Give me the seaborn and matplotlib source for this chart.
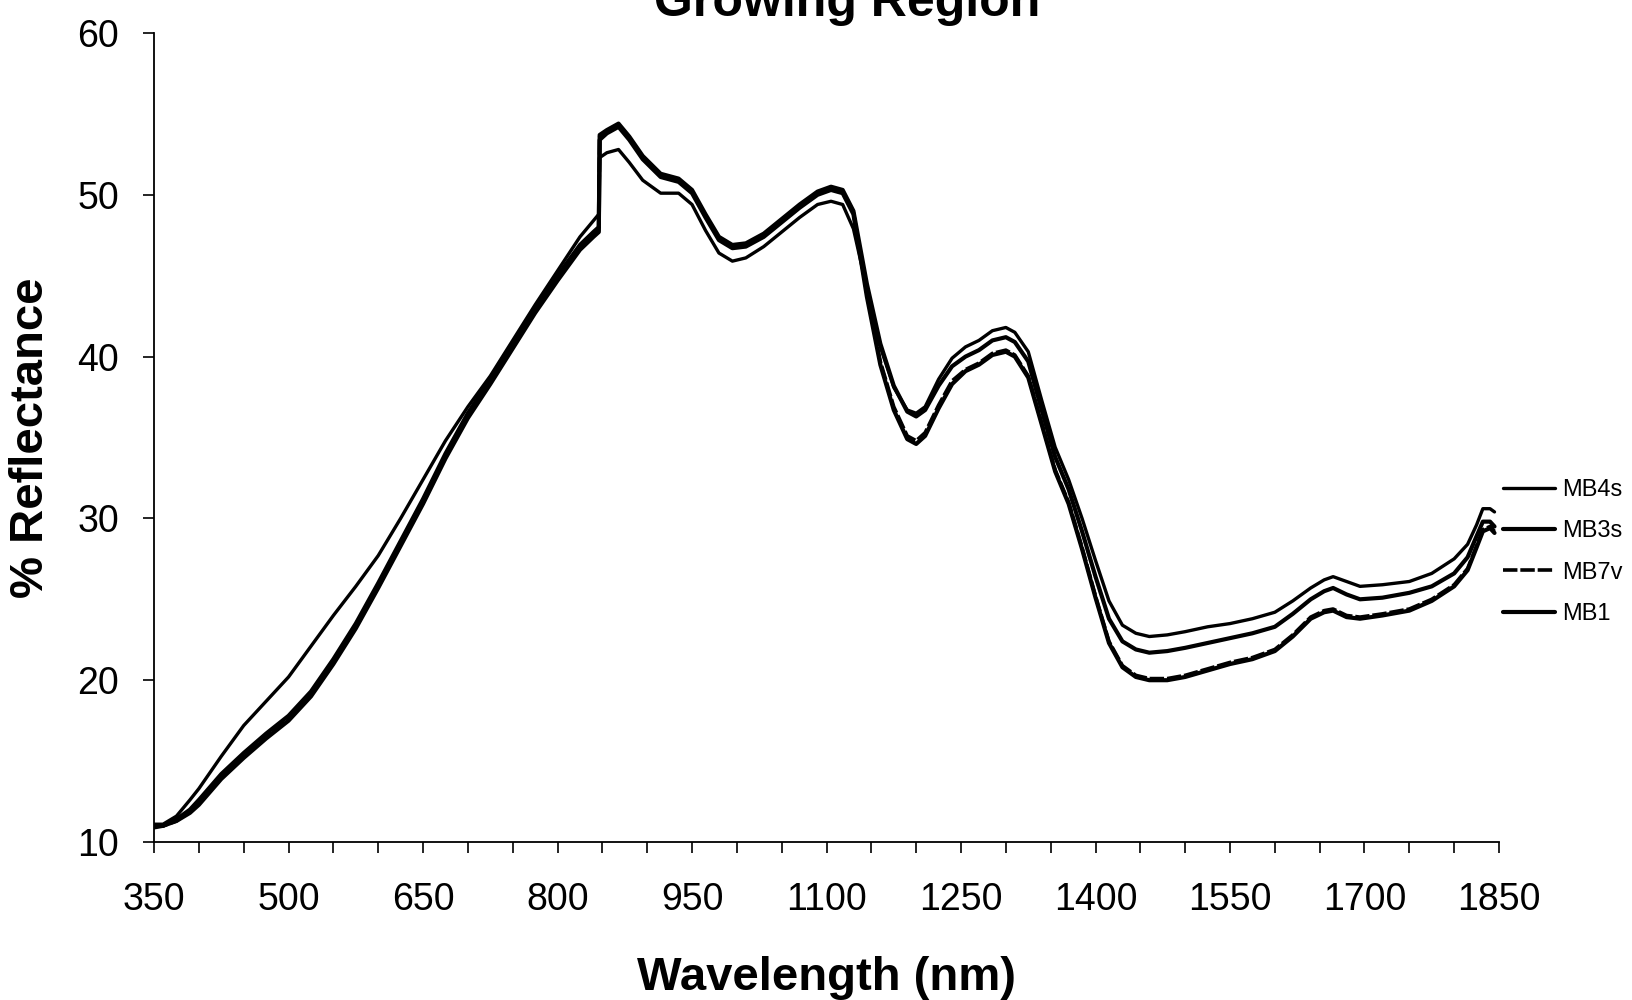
import matplotlib
matplotlib.use("Agg")
import matplotlib.pyplot as plt
import seaborn as sns
import pandas as pd
from matplotlib.ticker import MultipleLocator, FixedLocator

wavelength = [350, 360, 375, 390, 400,
              425, 450, 475, 500, 525,
              550, 575, 600, 625, 650,
              675, 700, 725, 750, 775,
              800, 825, 840, 846, 847,
              855, 868, 880, 895, 915,
              935, 950, 965, 980, 995,
              1010, 1030, 1050, 1070, 1090,
              1105, 1118, 1130, 1145, 1160,
              1175, 1190, 1200, 1210, 1225,
              1240, 1255, 1270, 1285, 1300,
              1310, 1325, 1340, 1355, 1370,
              1385, 1400, 1415, 1430, 1445,
              1460, 1480, 1500, 1525, 1550,
              1575, 1600, 1620, 1640, 1655,
              1665, 1680, 1695, 1720, 1750,
              1775, 1800, 1815, 1825, 1832,
              1840, 1845]

mb4s = [11.1, 11.1, 11.6, 12.6, 13.3,
        15.3, 17.2, 18.7, 20.2, 22.1,
        24.0, 25.8, 27.7, 30.0, 32.4,
        34.8, 36.9, 38.8, 41.0, 43.2,
        45.3, 47.4, 48.4, 48.8, 52.3,
        52.6, 52.8, 52.0, 50.9, 50.1,
        50.1, 49.4, 47.8, 46.4, 45.9,
        46.1, 46.8, 47.7, 48.6, 49.4,
        49.6, 49.4, 47.9, 44.2, 40.6,
        38.1, 36.7, 36.5, 36.9, 38.6,
        39.9, 40.6, 41.0, 41.6, 41.8,
        41.5, 40.3, 37.3, 34.4, 32.4,
        30.0, 27.4, 24.9, 23.4, 22.9,
        22.7, 22.8, 23.0, 23.3, 23.5,
        23.8, 24.2, 24.9, 25.7, 26.2,
        26.4, 26.1, 25.8, 25.9, 26.1,
        26.6, 27.5, 28.4, 29.6, 30.6,
        30.6, 30.4]

mb3s = [11.0, 11.0, 11.4, 12.0, 12.6,
        14.2, 15.5, 16.7, 17.8, 19.3,
        21.3, 23.5, 26.0, 28.6, 31.2,
        34.0, 36.5, 38.6, 40.8, 43.0,
        45.0, 46.9, 47.7, 48.0, 53.7,
        54.0, 54.4, 53.6, 52.4, 51.3,
        51.0, 50.3, 48.8, 47.4, 46.9,
        47.0, 47.6, 48.5, 49.4, 50.2,
        50.5, 50.3, 49.0, 44.5, 40.8,
        38.2, 36.6, 36.3, 36.7, 38.2,
        39.4, 40.0, 40.4, 41.0, 41.2,
        40.9, 39.7, 36.7, 33.8, 31.8,
        29.2, 26.4, 23.8, 22.4, 21.9,
        21.7, 21.8, 22.0, 22.3, 22.6,
        22.9, 23.3, 24.1, 25.0, 25.5,
        25.7, 25.3, 25.0, 25.1, 25.4,
        25.8, 26.6, 27.6, 28.9, 29.8,
        29.8, 29.5]

mb7v = [11.0, 11.0, 11.3, 11.9, 12.4,
        14.0, 15.3, 16.5, 17.6, 19.1,
        21.1, 23.3, 25.8, 28.4, 31.0,
        33.8, 36.3, 38.4, 40.6, 42.8,
        44.8, 46.7, 47.5, 47.8, 53.6,
        53.9, 54.3, 53.5, 52.3, 51.2,
        50.9, 50.2, 48.7, 47.3, 46.8,
        46.9, 47.5, 48.4, 49.3, 50.1,
        50.4, 50.2, 48.9, 43.9, 39.7,
        36.9, 35.1, 34.8, 35.3, 37.0,
        38.5, 39.2, 39.6, 40.2, 40.4,
        40.1, 38.8, 35.9, 33.0, 31.0,
        28.2, 25.2, 22.4, 20.9, 20.3,
        20.1, 20.1, 20.3, 20.7, 21.1,
        21.4, 21.9, 22.8, 23.9, 24.3,
        24.4, 24.0, 23.9, 24.1, 24.4,
        25.0, 25.9, 26.9, 28.3, 29.3,
        29.5, 29.2]

mb1 = [10.9, 11.0, 11.3, 11.8, 12.3,
       13.9, 15.2, 16.4, 17.5, 19.0,
       21.0, 23.2, 25.7, 28.3, 30.9,
       33.7, 36.2, 38.3, 40.5, 42.7,
       44.7, 46.6, 47.4, 47.7, 53.4,
       53.8, 54.2, 53.4, 52.2, 51.1,
       50.8, 50.1, 48.6, 47.2, 46.7,
       46.8, 47.4, 48.3, 49.2, 50.0,
       50.3, 50.1, 48.8, 43.7, 39.5,
       36.7, 34.9, 34.6, 35.1, 36.8,
       38.3, 39.1, 39.5, 40.1, 40.3,
       40.0, 38.7, 35.8, 32.9, 30.9,
       28.1, 25.1, 22.3, 20.8, 20.2,
       20.0, 20.0, 20.2, 20.6, 21.0,
       21.3, 21.8, 22.7, 23.8, 24.2,
       24.3, 23.9, 23.8, 24.0, 24.3,
       24.9, 25.8, 26.8, 28.2, 29.2,
       29.4, 29.1]

series_names = ["MB4s", "MB3s", "MB7v", "MB1"]
series_values = [mb4s, mb3s, mb7v, mb1]
x_tick_labels = [350, 500, 650, 800, 950, 1100, 1250, 1400, 1550, 1700, 1850]
y_tick_labels = [10, 20, 30, 40, 50, 60]

sns.set_style("ticks")
plt.rcParams["font.family"] = ["Liberation Sans", "DejaVu Sans"]
plt.rcParams["text.color"] = "black"
plt.rcParams["axes.labelcolor"] = "black"

frames = []
for name, vals in zip(series_names, series_values):
    frames.append(pd.DataFrame({"Wavelength": wavelength, "Reflectance": vals, "Sample": name}))
df = pd.concat(frames, ignore_index=True)

fig = plt.figure(figsize=(16.32, 10.0), dpi=100)
ax = fig.add_axes([0.0944, 0.158, 0.9185 - 0.0944, 0.967 - 0.158])

styles = {
    "MB4s": dict(lw=2.4, dashes=None),
    "MB3s": dict(lw=3.0, dashes=None),
    "MB7v": dict(lw=2.6, dashes=(4, 0.8)),
    "MB1": dict(lw=3.0, dashes=None),
}
for name in series_names:
    sub = df[df["Sample"] == name]
    st = styles[name]
    sns.lineplot(data=sub, x="Wavelength", y="Reflectance", ax=ax, color="black",
                 linewidth=st["lw"], estimator=None, sort=False, label=name)
    ln = ax.lines[-1]
    ln.set_solid_joinstyle("round")
    ln.set_solid_capstyle("round")
    if st["dashes"] is not None:
        ln.set_dashes(st["dashes"])

ax.set_xlim(350, 1850)
ax.set_ylim(10, 60)
ax.xaxis.set_major_locator(FixedLocator(x_tick_labels))
ax.xaxis.set_minor_locator(MultipleLocator(50))
ax.yaxis.set_major_locator(FixedLocator(y_tick_labels))
ax.set_xticklabels([str(v) for v in x_tick_labels])
ax.set_yticklabels([str(v) for v in y_tick_labels])
ax.tick_params(axis="x", which="both", direction="out", length=8, width=1.2, pad=21,
               labelsize=27, colors="black")
ax.tick_params(axis="y", which="both", direction="out", length=8, width=1.2, pad=17,
               labelsize=27, colors="black")
for s in ["top", "right"]:
    ax.spines[s].set_visible(False)
for s in ["left", "bottom"]:
    ax.spines[s].set_linewidth(1.3)
    ax.spines[s].set_color("black")

ax.set_xlabel("Wavelength (nm)", fontsize=34, fontweight="bold", labelpad=27, color="black")
ax.set_ylabel("% Reflectance", fontsize=34, fontweight="bold", labelpad=18, color="black")

fig.text(0.519, 1 - 15.5 / 1000, "Growing Region", fontsize=36, fontweight="bold",
         ha="center", va="baseline", color="black")

handles, labels = ax.get_legend_handles_labels()
if ax.get_legend() is not None:
    ax.get_legend().remove()
leg = fig.legend(handles, labels, loc="upper left", bbox_to_anchor=(1503 / 1632, 1 - 479 / 1000),
                 frameon=False, fontsize=17, handlelength=2.2, handletextpad=0.3,
                 labelspacing=0.82, borderpad=0, borderaxespad=0)
for t in leg.get_texts():
    t.set_color("black")

fig.savefig("out.png", dpi=100, facecolor="white")
